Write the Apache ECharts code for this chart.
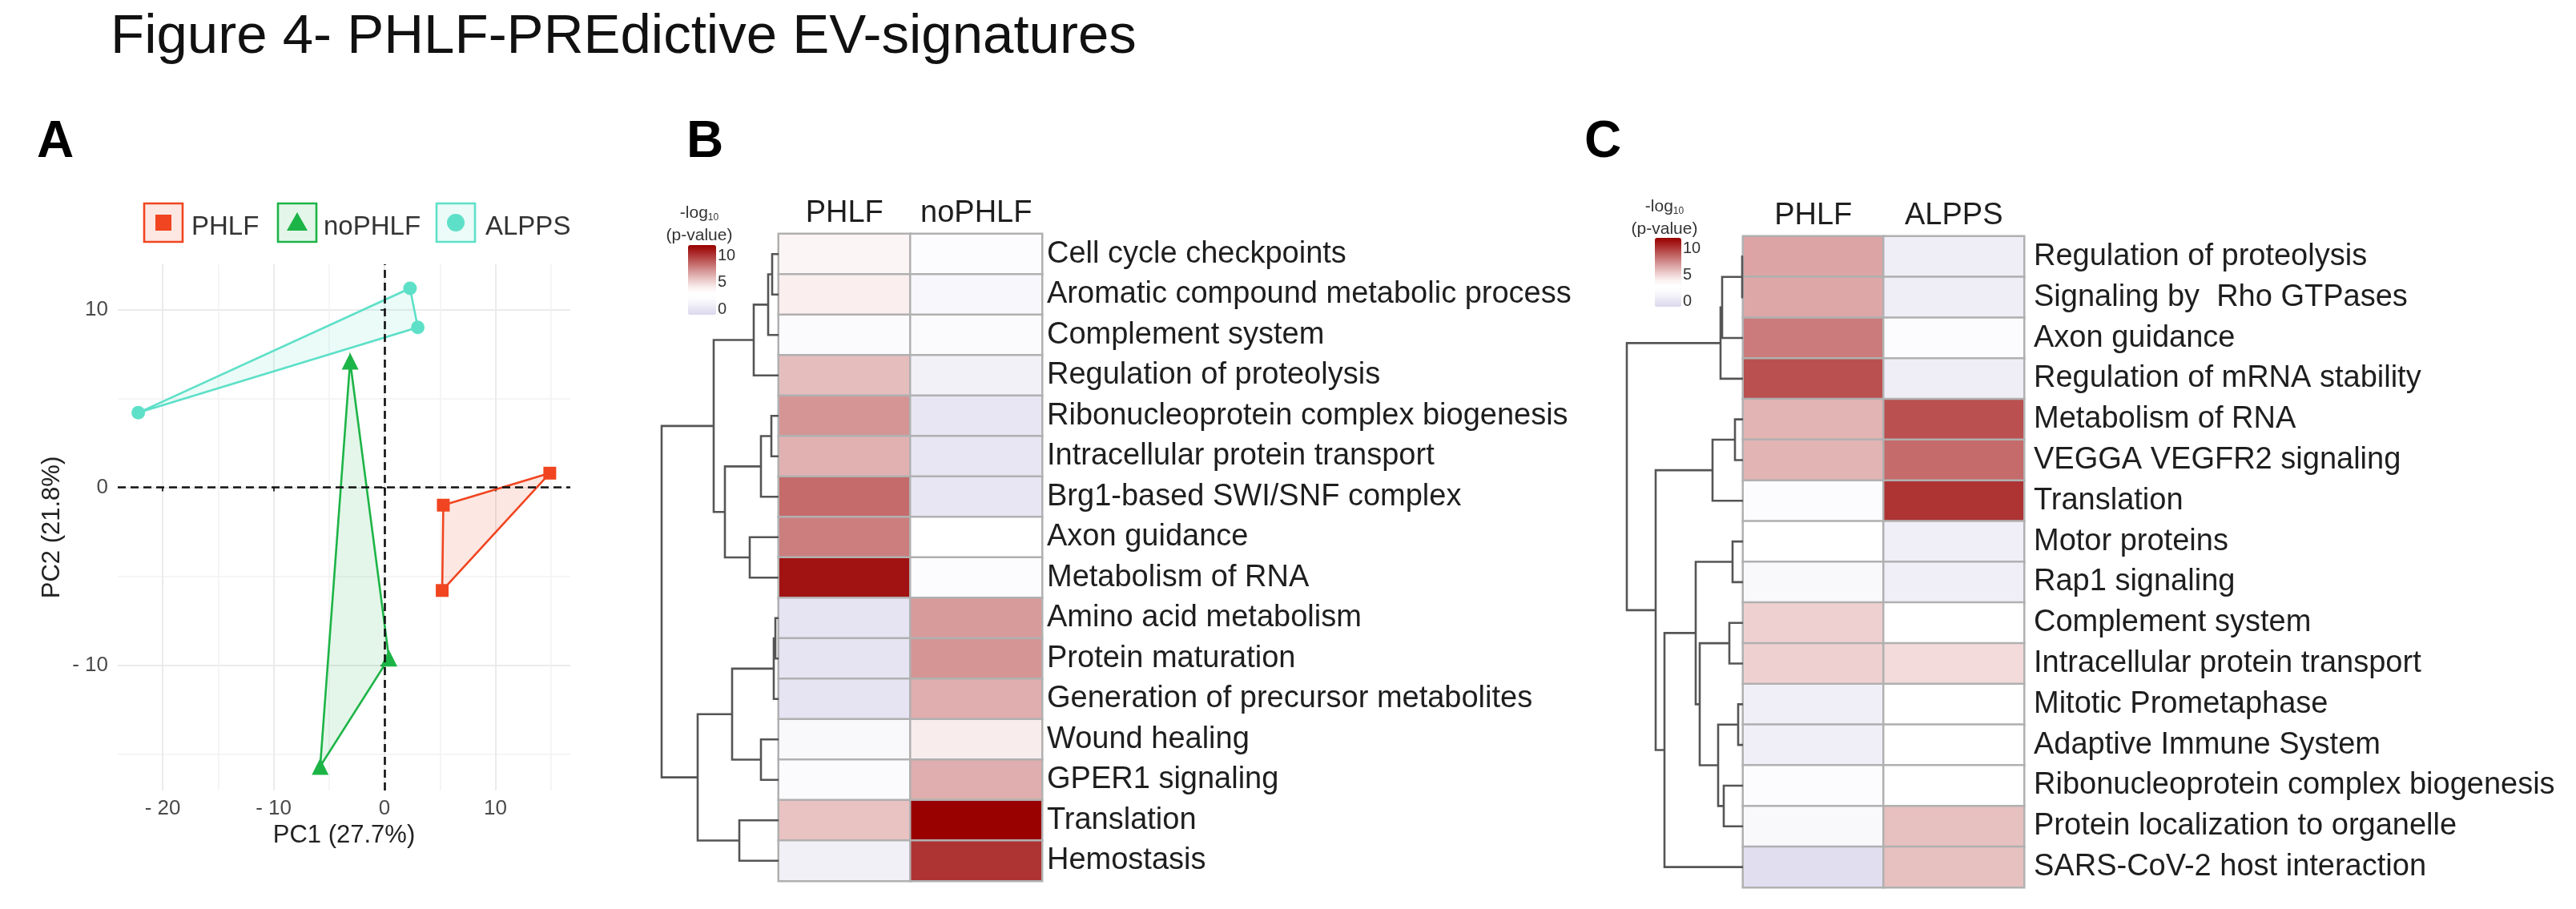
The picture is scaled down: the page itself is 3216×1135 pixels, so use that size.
<!DOCTYPE html>
<html><head><meta charset="utf-8">
<script src="https://cdn.jsdelivr.net/npm/echarts@6/dist/echarts.min.js"></script>
<style>html,body{margin:0;padding:0;background:#fff}#c{width:3216px;height:1135px}</style>
</head><body><div id="c"></div>
<script>
const FONT = '"Liberation Sans", Arial, Helvetica, sans-serif';

// ---------- Panel A: PCA ----------
const pcaGroups = ['PHLF', 'noPHLF', 'ALPPS'];
const pcaPHLF   = [[14.9, 0.8], [5.3, -1.0], [5.2, -5.8]];
const pcaNoPHLF = [[-3.1, 7.1], [0.4, -9.6], [-5.8, -15.7]];
const pcaALPPS  = [[2.3, 11.2], [3.0, 9.0], [-22.2, 4.2]];
const pcaXTicks = [-20, -10, 0, 10];
const pcaXMinor = [-15, -5, 5, 15];
const pcaYTicks = [-10, 0, 10];
const pcaYMinor = [-15, -5, 5];
const pcaXTitle = 'PC1 (27.7%)';
const pcaYTitle = 'PC2 (21.8%)';

// ---------- Panel B ----------
const bColumns = ['PHLF', 'noPHLF'];
const bRows = ['Cell cycle checkpoints', 'Aromatic compound metabolic process', 'Complement system',
  'Regulation of proteolysis', 'Ribonucleoprotein complex biogenesis', 'Intracellular protein transport',
  'Brg1-based SWI/SNF complex', 'Axon guidance', 'Metabolism of RNA', 'Amino acid metabolism',
  'Protein maturation', 'Generation of precursor metabolites', 'Wound healing', 'GPER1 signaling',
  'Translation', 'Hemostasis'];
const bPHLF   = [3.7, 4.1, 1.9, 5.9, 7.2, 6.3, 8.5, 7.9, 11.3, 0.0, 0.0, 0.0, 1.7, 1.9, 5.7, 0.9];
const bNoPHLF = [2.1, 1.6, 1.9, 1.0, 0.2, 0.2, 0.2, 2.9, 2.0, 7.0, 7.2, 6.4, 4.2, 6.4, 12.0, 10.2];
// hclust-style merges: negative = leaf row (1-based), positive = earlier merge step; third = height
const bMerge = [[-1,-2,8],[1,-3,13],[2,-4,31],[-5,-6,9],[4,-7,22],[-8,-9,36],[5,6,67],[3,7,81],
  [-10,-11,4],[9,-12,6],[-13,-14,22],[10,11,58],[-15,-16,49],[12,13,101],[8,14,146]];

// ---------- Panel C ----------
const cColumns = ['PHLF', 'ALPPS'];
const cRows = ['Regulation of proteolysis', 'Signaling by  Rho GTPases', 'Axon guidance',
  'Regulation of mRNA stability', 'Metabolism of RNA', 'VEGGA VEGFR2 signaling', 'Translation',
  'Motor proteins', 'Rap1 signaling', 'Complement system', 'Intracellular protein transport',
  'Mitotic Prometaphase', 'Adaptive Immune System', 'Ribonucleoprotein complex biogenesis',
  'Protein localization to organelle', 'SARS-CoV-2 host interaction'];
const cPHLF  = [6.7, 6.6, 8.0, 9.3, 6.2, 6.2, 2.0, 2.9, 1.7, 5.2, 5.2, 0.8, 0.8, 2.0, 1.7, -0.5];
const cALPPS = [0.7, 0.7, 2.0, 0.7, 9.3, 8.5, 10.2, 0.8, 0.8, 2.9, 4.8, 2.9, 2.9, 3.0, 5.8, 5.8];
const cMerge = [[-1,-2,1],[1,-3,26],[2,-4,28],[-5,-6,10],[4,-7,38],[-8,-9,13],[-10,-11,17],
  [-12,-13,6],[-14,-15,24],[8,9,31],[7,10,54],[6,11,59],[12,-16,98],[5,13,109],[3,14,145]];

// colour scale (-log10 p-value)
const scaleMin = -1, scaleMax = 12;
const legendTicks = [0, 5, 10];
const scaleColors = ['#DCD8EE','#E6E3F2','#F3F1F8','#FCFCFE','#FFFFFF','#FBF1F1','#F1D6D6',
  '#E5BABA','#D89B9B','#CB7B7B','#BE5A5A','#B13A3A','#A41B1B','#990000'];

// ---------- helpers ----------
const groupColor = ['#F04520', '#1DB447', '#5EE0C8'];
const groupFill  = ['rgba(240,69,32,0.13)', 'rgba(29,180,71,0.12)', 'rgba(94,224,200,0.12)'];
const groupPts = [pcaPHLF, pcaNoPHLF, pcaALPPS];
const groupSymbol = ['rect', 'triangle', 'circle'];
const groupSize = [16, 21, 17];

function heatData(colA, colB) {
  const out = [];
  colA.forEach((v, r) => out.push([0, r, v]));
  colB.forEach((v, r) => out.push([1, r, v]));
  return out;
}
function dendroSegs(merge) {
  const nodes = [];
  const info = id => id < 0 ? { y: -id - 1 + 0.5, h: 0 } : nodes[id];
  const segs = [];
  merge.forEach((m, i) => {
    const a = info(m[0]), b = info(m[1]);
    nodes[i + 1] = { y: (a.y + b.y) / 2, h: m[2] };
    segs.push([m[2], a.y, a.h, b.y, b.h]);
  });
  return segs;
}
const negFmt = v => v < 0 ? '- ' + (-v) : String(v);

function dendroSeries(xi, yi, merge) {
  return {
    type: 'custom', xAxisIndex: xi, yAxisIndex: yi, silent: true, clip: false,
    data: dendroSegs(merge),
    encode: { x: 0, y: 1 },
    renderItem: (params, api) => {
      const h = api.value(0), y1 = api.value(1), h1 = api.value(2), y2 = api.value(3), h2 = api.value(4);
      return {
        type: 'polyline',
        shape: { points: [api.coord([h1, y1]), api.coord([h, y1]), api.coord([h, y2]), api.coord([h2, y2])] },
        style: { stroke: '#555', lineWidth: 2.6, fill: null }
      };
    }
  };
}
function hullSeries(g, extra) {
  const s = {
    type: 'custom', xAxisIndex: 0, yAxisIndex: 0, silent: true, z: 2,
    data: [groupPts[g][0]],
    renderItem: (params, api) => ({
      type: 'polygon',
      shape: { points: groupPts[g].map(p => api.coord(p)) },
      style: { fill: groupFill[g], stroke: groupColor[g], lineWidth: 2.6 }
    })
  };
  return Object.assign(s, extra || {});
}
function catXAxis(grid, cats) {
  return { type: 'category', gridIndex: grid, data: cats, position: 'top',
    axisLine: { show: false }, axisTick: { show: false }, splitLine: { show: false },
    axisLabel: { fontSize: 38, fontFamily: FONT, color: '#1e1e1e', margin: 6, interval: 0 } };
}
function catYAxis(grid, cats, margin) {
  return { type: 'category', gridIndex: grid, data: cats, inverse: true, position: 'right',
    axisLine: { show: false }, axisTick: { show: false }, splitLine: { show: false },
    axisLabel: { fontSize: 38, fontFamily: FONT, color: '#1e1e1e', margin: margin, interval: 0, align: 'left' } };
}
function dendroXAxis(grid, maxH) {
  return { type: 'value', gridIndex: grid, min: 0, max: maxH, inverse: true, show: false };
}
function dendroYAxis(grid) {
  return { type: 'value', gridIndex: grid, min: 0, max: 16, inverse: true, show: false };
}
function legXAxis(grid) { return { type: 'value', gridIndex: grid, show: false, min: 0, max: 1 }; }
function legYAxis(grid) {
  return { type: 'value', gridIndex: grid, min: scaleMin, max: scaleMax, position: 'right',
    axisLine: { show: false }, splitLine: { show: false },
    axisTick: { show: true, length: 5, customValues: legendTicks, lineStyle: { color: '#444', width: 1.5 } },
    axisLabel: { customValues: legendTicks, fontSize: 20, fontFamily: FONT, color: '#333', margin: 2 } };
}
function vm(seriesIndex, left, top, w, h) {
  return { type: 'continuous', seriesIndex: seriesIndex, min: scaleMin, max: scaleMax,
    orient: 'vertical', itemWidth: w, itemHeight: h, left: left, top: top, padding: 0,
    calculable: false, hoverLink: false, realtime: false, inRange: { color: scaleColors } };
}

const option = {
  animation: false,
  backgroundColor: '#ffffff',
  textStyle: { fontFamily: FONT },
  grid: [
    { left: 147, top: 330, width: 565, height: 657, containLabel: false, outerBoundsMode: 'none' },
    { left: 972, top: 292, width: 329, height: 808, containLabel: false, outerBoundsMode: 'none' },
    { left: 826, top: 292, width: 146, height: 808, containLabel: false, outerBoundsMode: 'none' },
    { left: 859, top: 306, width: 35, height: 87, containLabel: false, outerBoundsMode: 'none' },
    { left: 2176, top: 295, width: 351, height: 813, containLabel: false, outerBoundsMode: 'none' },
    { left: 2031, top: 295, width: 145, height: 813, containLabel: false, outerBoundsMode: 'none' },
    { left: 2066, top: 297, width: 33, height: 86, containLabel: false, outerBoundsMode: 'none' }
  ],
  xAxis: [
    { type: 'value', gridIndex: 0, min: -24.05, max: 16.75, position: 'bottom',
      name: pcaXTitle, nameLocation: 'middle', nameGap: 38,
      nameTextStyle: { fontSize: 31, fontFamily: FONT, color: '#222' },
      axisLine: { show: false },
      axisTick: { show: true, length: 5, customValues: pcaXTicks, lineStyle: { color: '#333', width: 2 } },
      axisLabel: { customValues: pcaXTicks, formatter: negFmt, fontSize: 26, fontFamily: FONT, color: '#4a4a4a', margin: 10 },
      splitLine: { show: true, lineStyle: { color: '#EBEBEB', width: 2 } } },
    { type: 'value', gridIndex: 0, min: -24.05, max: 16.75, position: 'top',
      axisLine: { show: false }, axisLabel: { show: false },
      axisTick: { show: false, customValues: pcaXMinor },
      splitLine: { show: true, lineStyle: { color: '#F2F2F2', width: 1.5 } } },
    catXAxis(1, bColumns),
    dendroXAxis(2, 146),
    legXAxis(3),
    catXAxis(4, cColumns),
    dendroXAxis(5, 145),
    legXAxis(6)
  ],
  yAxis: [
    { type: 'value', gridIndex: 0, min: -17.05, max: 12.55, position: 'left',
      name: pcaYTitle, nameLocation: 'middle', nameGap: 66,
      nameTextStyle: { fontSize: 31, fontFamily: FONT, color: '#222' },
      axisLine: { show: false },
      axisTick: { show: true, length: 5, customValues: pcaYTicks, lineStyle: { color: '#333', width: 2 } },
      axisLabel: { customValues: pcaYTicks, formatter: negFmt, fontSize: 26, fontFamily: FONT, color: '#4a4a4a', margin: 12 },
      splitLine: { show: true, lineStyle: { color: '#EBEBEB', width: 2 } } },
    { type: 'value', gridIndex: 0, min: -17.05, max: 12.55, position: 'right',
      axisLine: { show: false }, axisLabel: { show: false },
      axisTick: { show: false, customValues: pcaYMinor },
      splitLine: { show: true, lineStyle: { color: '#F2F2F2', width: 1.5 } } },
    catYAxis(1, bRows, 6),
    dendroYAxis(2),
    legYAxis(3),
    catYAxis(4, cRows, 12),
    dendroYAxis(5),
    legYAxis(6)
  ],
  visualMap: [
    vm(6, 859, 306, 35, 87),
    vm(8, 2066, 297, 33, 86)
  ],
  series: [
    hullSeries(0),                                   // 0
    hullSeries(1),                                   // 1
    hullSeries(2, {                                  // 2
      markLine: { silent: true, symbol: ['none', 'none'], label: { show: false },
        lineStyle: { color: '#111', type: [10, 6], width: 2.6 },
        data: [{ xAxis: 0 }, { yAxis: 0 }] }
    }),
    { type: 'scatter', name: pcaGroups[0], xAxisIndex: 0, yAxisIndex: 0, z: 4, data: pcaPHLF,
      symbol: groupSymbol[0], symbolSize: groupSize[0], itemStyle: { color: groupColor[0], opacity: 1 } }, // 3
    { type: 'scatter', name: pcaGroups[1], xAxisIndex: 0, yAxisIndex: 0, z: 4, data: pcaNoPHLF,
      symbol: groupSymbol[1], symbolSize: groupSize[1], itemStyle: { color: groupColor[1], opacity: 1 } }, // 4
    { type: 'scatter', name: pcaGroups[2], xAxisIndex: 0, yAxisIndex: 0, z: 4, data: pcaALPPS,
      symbol: groupSymbol[2], symbolSize: groupSize[2], itemStyle: { color: groupColor[2], opacity: 1 } }, // 5
    { type: 'heatmap', xAxisIndex: 2, yAxisIndex: 2, data: heatData(bPHLF, bNoPHLF), silent: true,
      itemStyle: { borderColor: '#B0B0B0', borderWidth: 2.5 } },   // 6
    dendroSeries(3, 3, bMerge),                                      // 7
    { type: 'heatmap', xAxisIndex: 5, yAxisIndex: 5, data: heatData(cPHLF, cALPPS), silent: true,
      itemStyle: { borderColor: '#B0B0B0', borderWidth: 2.5 } },   // 8
    dendroSeries(6, 6, cMerge)                                       // 9
  ],
  graphic: { elements: [] }
};

// titles and panel letters
const G = option.graphic.elements;
G.push({ type: 'text', x: 138, y: 47, silent: true,
  style: { text: 'Figure 4- PHLF-PREdictive EV-signatures', fontSize: 69, fontFamily: FONT, fill: '#111',
    textAlign: 'left', textVerticalAlign: 'middle' } });
[['A', 46], ['B', 857], ['C', 1978]].forEach(([t, x]) => G.push({ type: 'text', x: x, y: 178, silent: true,
  style: { text: t, fontSize: 64, fontWeight: 'bold', fontFamily: FONT, fill: '#000',
    textAlign: 'left', textVerticalAlign: 'middle' } }));

// PCA legend
const legBoxX = [180, 347, 545];
const legTextX = [239, 404, 606];
pcaGroups.forEach((name, g) => {
  const bx = legBoxX[g], by = 254, s = 48, cx = bx + s / 2, cy = by + s / 2;
  G.push({ type: 'rect', silent: true, shape: { x: bx, y: by, width: s, height: s },
    style: { fill: groupFill[g], stroke: groupColor[g], lineWidth: 2.6 } });
  if (g === 0) G.push({ type: 'rect', silent: true, shape: { x: cx - 10, y: cy - 10, width: 20, height: 20 }, style: { fill: groupColor[g] } });
  if (g === 1) G.push({ type: 'polygon', silent: true, shape: { points: [[cx, cy - 13], [cx + 13, cy + 10], [cx - 13, cy + 10]] }, style: { fill: groupColor[g] } });
  if (g === 2) G.push({ type: 'circle', silent: true, shape: { cx: cx, cy: cy, r: 11 }, style: { fill: groupColor[g] } });
  G.push({ type: 'text', x: legTextX[g], y: 284, silent: true,
    style: { text: name, fontSize: 33, fontFamily: FONT, fill: '#333', textAlign: 'left', textVerticalAlign: 'middle' } });
});

// colour legend titles
[[873, 266, 294], [2078, 258, 286]].forEach(([cx, y1, y2]) => {
  G.push({ type: 'text', x: cx, y: y1, silent: true,
    style: { text: '-log{s|10}', fontSize: 21, fontFamily: FONT, fill: '#333', textAlign: 'center', textVerticalAlign: 'middle',
      rich: { s: { fontSize: 12, fontFamily: FONT, fill: '#333', padding: [12, 0, 0, 0] } } } });
  G.push({ type: 'text', x: cx, y: y2, silent: true,
    style: { text: '(p-value)', fontSize: 21, fontFamily: FONT, fill: '#333', textAlign: 'center', textVerticalAlign: 'middle' } });
});

const chart = echarts.init(document.getElementById('c'));
chart.setOption(option);
</script></body></html>
